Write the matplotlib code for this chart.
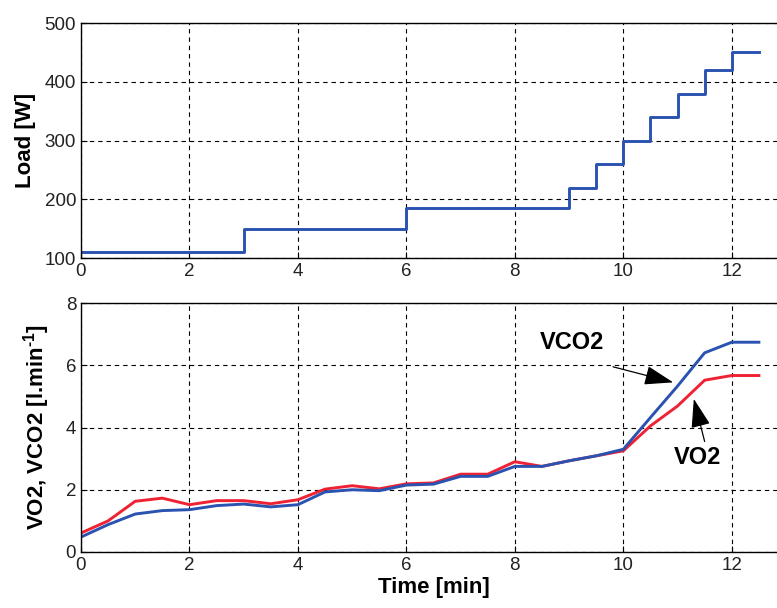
import matplotlib
matplotlib.use("Agg")
import matplotlib.pyplot as plt

plt.rcParams['font.family'] = ['Liberation Sans', 'DejaVu Sans']
plt.rcParams['mathtext.fontset'] = 'custom'
plt.rcParams['mathtext.rm'] = 'Liberation Sans:bold'
plt.rcParams['mathtext.bf'] = 'Liberation Sans:bold'

# load profile (step changes)
load_t = [0, 3, 6, 9, 9.5, 10, 10.5, 11, 11.5, 12, 12.5]
load_w = [110, 150, 185, 220, 260, 300, 340, 380, 420, 450, 450]

# gas exchange, read every 0.5 min
time_min = [0, 0.5, 1, 1.5, 2, 2.5, 3, 3.5, 4, 4.5, 5, 5.5, 6, 6.5,
            7, 7.5, 8, 8.5, 9, 9.5, 10, 10.5, 11, 11.5, 12, 12.5]
vo2 = [0.61, 1.0, 1.63, 1.73, 1.52, 1.65, 1.65, 1.55, 1.68, 2.02, 2.13, 2.03, 2.19,
       2.22, 2.5, 2.5, 2.9, 2.75, 2.93, 3.09, 3.25, 4.05, 4.69, 5.52, 5.67, 5.67]
vco2 = [0.48, 0.88, 1.22, 1.33, 1.36, 1.49, 1.54, 1.45, 1.52, 1.93, 2.0, 1.97, 2.15,
        2.18, 2.43, 2.43, 2.75, 2.75, 2.93, 3.09, 3.3, 4.32, 5.33, 6.4, 6.74, 6.74]

BLUE = '#2a52b0'
RED = '#ee2232'
W, H = 777, 608

fig = plt.figure(figsize=(W / 100, H / 100), dpi=100)
ax1 = fig.add_axes([81 / W, 1 - 258 / H, 705 / W, 235 / H])
ax2 = fig.add_axes([81 / W, 1 - 552 / H, 705 / W, 249 / H])


def style(ax):
	ax.set_xlim(0, 13)
	ax.set_xticks(range(0, 13, 2))
	ax.grid(True, color='black', linestyle=(0, (4, 3.5)), linewidth=0.8)
	ax.tick_params(direction='in', labelsize=13.5, length=4, width=0.8, labelcolor='#222222')
	for s in ax.spines.values():
		s.set_linewidth(1.0)


ax1.step(load_t, load_w, where='post', color=BLUE, lw=2.1)
ax1.set_ylim(100, 500)
ax1.set_yticks(range(100, 501, 100))
ax1.set_ylabel('Load [W]', fontsize=16, fontweight='bold', labelpad=6)
style(ax1)

ax2.plot(time_min, vo2, color=RED, lw=2.1)
ax2.plot(time_min, vco2, color=BLUE, lw=2.1)
ax2.set_ylim(0, 8)
ax2.set_yticks(range(0, 9, 2))
ax2.set_ylabel(r'VO2, VCO2 [l.min$^{\text{-1}}$]', fontsize=16, fontweight='bold', labelpad=10)
ax2.set_xlabel('Time [min]', fontsize=16, fontweight='bold', labelpad=2)
style(ax2)

arrow = dict(arrowstyle='-|>,head_width=0.6,head_length=1.8', color='black', lw=0.9,
             shrinkA=0, shrinkB=0)
ax2.text(9.05, 6.72, 'VCO2', fontsize=17, fontweight='bold', ha='center', va='center')
ax2.annotate('', xy=(10.92, 5.45), xytext=(9.81, 5.95), arrowprops=arrow)
ax2.text(11.37, 3.05, 'VO2', fontsize=17, fontweight='bold', ha='center', va='center')
ax2.annotate('', xy=(11.3, 4.92), xytext=(11.5, 3.55), arrowprops=arrow)

fig.savefig('out.png', dpi=100)
